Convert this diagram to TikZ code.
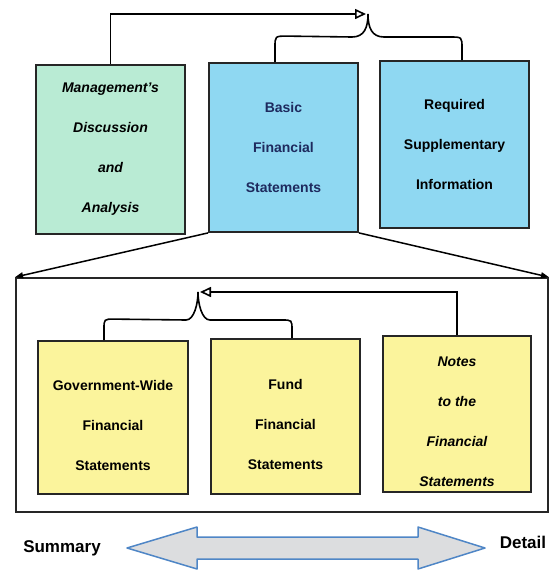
\documentclass[tikz,border=0pt]{standalone}
\usepackage{fontspec}
\setmainfont{Liberation Sans}
\usetikzlibrary{arrows.meta}

\definecolor{mdagreen}{HTML}{B9EBD4}
\definecolor{bfsblue}{HTML}{8FD8F2}
\definecolor{notesyellow}{HTML}{FBF49C}
\definecolor{arrowgray}{HTML}{DCDDDF}
\definecolor{arrowblue}{HTML}{4F86C6}
\definecolor{textnavy}{HTML}{1E2A5E}

\newcommand\partfont{\fontsize{14}{40}\selectfont\bfseries}
\newcommand\sidefont{\fontsize{17}{20}\selectfont\bfseries}
\newcommand\partwidth{149pt}

\tikzset{
  partbox/.style={draw=black!85, line width=1.8pt, minimum width=\partwidth,
    minimum height=169pt, align=center, inner sep=0pt, font=\partfont},
  mdabox/.style={partbox, fill=mdagreen, font=\partfont\itshape},
  bfsbox/.style={partbox, fill=bfsblue},
  stmtbox/.style={partbox, fill=notesyellow, minimum height=155pt},
  stmttext/.style={align=center, font=\partfont},
  bracket/.style={line width=1.6pt},
  linkarrow/.style={line width=1.6pt, -{Triangle[open, length=11pt, width=10pt]}},
  cornerarrow/.style={line width=1.5pt, -{Triangle[length=8pt, width=6pt]}},
}

\begin{document}
\begin{tikzpicture}[x=1pt, y=-1pt]
  \useasboundingbox (0,0) rectangle (555,571);

  % top row
  \node[mdabox] (mda) at (110.5,149.5) {Management's\\Discussion\\and\\Analysis};
  \node[bfsbox, text=textnavy] (basic) at (283.5,147.5) {Basic\\Financial\\Statements};
  \node[bfsbox, minimum height=167pt] (rsi) at (454.5,144.5) {Required\\Supplementary\\Information};

  \coordinate (topcusp) at (368,14);
  \draw[bracket] ([xshift=-8.5pt]basic.north) -- ++(0,-15)
     .. controls ++(0,-11) .. ++(12,-11) -- (352,37)
     .. controls (364,37) and (368,28) .. (topcusp)
     .. controls (368,28) and (372,37) .. (384,37) -- (450,37)
     .. controls (462,37) .. (462,48) -- ([xshift=7.5pt]rsi.north);
  \draw[linkarrow] (mda.north) |- ([xshift=-2pt]topcusp);

  % detail frame
  \node[draw=black!85, line width=1.8pt, minimum width=532pt, minimum height=234pt,
    inner sep=0pt] (frame) at (282,395) {};
  \draw[cornerarrow] (basic.south west) -- (frame.north west);
  \draw[cornerarrow] (basic.south east) -- (frame.north east);

  \node[stmtbox, minimum width=150pt, minimum height=153pt] (gw) at (113,417.5) {};
  \node[stmtbox] (fund) at (285.5,416.5) {};
  \node[stmtbox, minimum width=148pt, minimum height=156pt] (notes) at (457,414) {};
  \node[stmttext] (gwtext) at ([yshift=-8pt]gw.center)
     {Government-Wide\\Financial\\Statements};
  \node[stmttext] (fundtext) at ([yshift=-8pt]fund.center)
     {Fund\\Financial\\Statements};
  \node[stmttext, font=\partfont\itshape] (notestext) at ([yshift=-8pt]notes.center)
     {Notes\\to the\\Financial\\Statements};

  \coordinate (innercusp) at (198,292);
  \draw[bracket] ([xshift=-9pt]gw.north) -- ++(0,-11)
     .. controls ++(0,-10) .. ++(10,-10) -- (186,320)
     .. controls (194,320) and (198,304) .. (innercusp)
     .. controls (198,304) and (202,320) .. (210,320) -- (282,320)
     .. controls (292,320) .. (292,330) -- ([xshift=6.5pt]fund.north);
  \draw[linkarrow] (notes.north) |- ([xshift=2pt]innercusp);

  % summary <-> detail
  \node[font=\sidefont] (summary) at (62,548) {Summary};
  \node[font=\sidefont] (detail) at (523,542) {Detail};
  \draw[fill=arrowgray, draw=arrowblue, line width=1.5pt, line join=round]
     (127,548) -- (197,527) -- (197,537) -- (418,537) -- (418,527) -- (485,548)
     -- (418,569) -- (418,559) -- (197,559) -- (197,569) -- cycle;
\end{tikzpicture}
\end{document}
